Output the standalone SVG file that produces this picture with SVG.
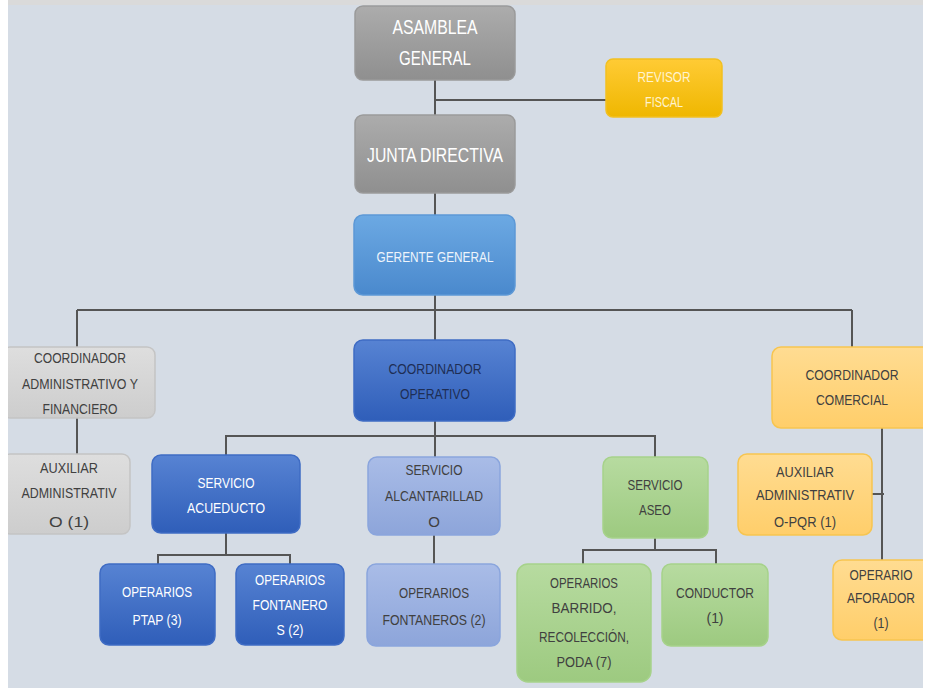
<svg xmlns="http://www.w3.org/2000/svg" width="925" height="688" viewBox="0 0 925 688">
<defs>
<linearGradient id="gGray" x1="0" y1="0" x2="0" y2="1"><stop offset="0" stop-color="#ACACAC"/><stop offset="1" stop-color="#8F8F8F"/></linearGradient>
<linearGradient id="gYellow" x1="0" y1="0" x2="0" y2="1"><stop offset="0" stop-color="#FFCB35"/><stop offset="1" stop-color="#EFB700"/></linearGradient>
<linearGradient id="gSky" x1="0" y1="0" x2="0" y2="1"><stop offset="0" stop-color="#6CA9E3"/><stop offset="1" stop-color="#4A89CD"/></linearGradient>
<linearGradient id="gBlue" x1="0" y1="0" x2="0" y2="1"><stop offset="0" stop-color="#5783D3"/><stop offset="1" stop-color="#2F5EB9"/></linearGradient>
<linearGradient id="gLBlue" x1="0" y1="0" x2="0" y2="1"><stop offset="0" stop-color="#A9BCE7"/><stop offset="1" stop-color="#8DA5DA"/></linearGradient>
<linearGradient id="gGreen" x1="0" y1="0" x2="0" y2="1"><stop offset="0" stop-color="#B7DBA0"/><stop offset="1" stop-color="#9DCA80"/></linearGradient>
<linearGradient id="gOrange" x1="0" y1="0" x2="0" y2="1"><stop offset="0" stop-color="#FFDC92"/><stop offset="1" stop-color="#FFCE6A"/></linearGradient>
<linearGradient id="gLGray" x1="0" y1="0" x2="0" y2="1"><stop offset="0" stop-color="#DEDEDE"/><stop offset="1" stop-color="#CDCDCD"/></linearGradient>
</defs>
<style>
text{font-family:"Liberation Sans",Arial,sans-serif;text-anchor:middle;}
.box{stroke-width:1.5;}
.gray{fill:url(#gGray);stroke:#9A9A9A;}
.yellow{fill:url(#gYellow);stroke:#F2C020;}
.sky{fill:url(#gSky);stroke:#5C98D6;}
.blue{fill:url(#gBlue);stroke:#3F6CC4;}
.lblue{fill:url(#gLBlue);stroke:#8AA5DD;}
.green{fill:url(#gGreen);stroke:#A6D28A;}
.orange{fill:url(#gOrange);stroke:#F7C550;}
.lgray{fill:url(#gLGray);stroke:#C4C4C4;}
.tw{fill:#FFFFFF;}
.ty{fill:#FFF3CF;}
.td{fill:#404040;}
.tdb{fill:#1E2E55;}
.big{font-size:20px;}
.md{font-size:15px;}
.sm{font-size:14px;}
.conn line,.conn polyline{stroke:#555555;stroke-width:2;fill:none;}
</style>
<rect x="0" y="0" width="925" height="688" fill="#D5DCE5"/>

<g class="conn">
<line x1="435" y1="80" x2="435" y2="215"/>
<line x1="435" y1="100" x2="606" y2="100"/>
<line x1="435" y1="295" x2="435" y2="340"/>
<line x1="77" y1="310" x2="852" y2="310"/>
<line x1="77" y1="310" x2="77" y2="347"/>
<line x1="852" y1="310" x2="852" y2="347"/>
<line x1="77" y1="418" x2="77" y2="454"/>
<line x1="435" y1="421" x2="435" y2="457"/>
<polyline points="226,455 226,436 655,436 655,457"/>
<polyline points="226,533 226,555"/>
<polyline points="158,564 158,555 290,555 290,564"/>
<line x1="434" y1="535" x2="434" y2="564"/>
<line x1="655" y1="538" x2="655" y2="550"/>
<polyline points="583,564 583,550 716,550 716,564"/>
<line x1="882" y1="428" x2="882" y2="560"/>
<line x1="872" y1="494" x2="884" y2="494"/>
</g>

<g id="asamblea"><rect class="box gray" x="355" y="6" width="160" height="74" rx="8"/>
<text class="big tw" x="435" y="34" textLength="85" lengthAdjust="spacingAndGlyphs">ASAMBLEA</text><text class="big tw" x="435" y="65" textLength="72" lengthAdjust="spacingAndGlyphs">GENERAL</text></g>

<g id="revisor"><rect class="box yellow" x="606" y="59" width="116" height="58" rx="7"/>
<text class="md ty" x="664" y="82" textLength="53" lengthAdjust="spacingAndGlyphs">REVISOR</text><text class="md ty" x="664" y="107" textLength="38" lengthAdjust="spacingAndGlyphs">FISCAL</text></g>

<g id="junta"><rect class="box gray" x="355" y="115" width="160" height="78" rx="8"/>
<text class="big tw" x="435" y="162" textLength="136" lengthAdjust="spacingAndGlyphs">JUNTA DIRECTIVA</text></g>

<g id="gerente"><rect class="box sky" x="354" y="215" width="161" height="80" rx="9"/>
<text class="md" fill="#EEF4FB" x="435" y="262" textLength="117" lengthAdjust="spacingAndGlyphs">GERENTE GENERAL</text></g>

<g id="coord-admin"><rect class="box lgray" x="2" y="347" width="153" height="71" rx="8"/>
<text class="sm td" x="80" y="363" textLength="92" lengthAdjust="spacingAndGlyphs">COORDINADOR</text><text class="sm td" x="80" y="389" textLength="116" lengthAdjust="spacingAndGlyphs">ADMINISTRATIVO Y</text><text class="sm td" x="80" y="414" textLength="75" lengthAdjust="spacingAndGlyphs">FINANCIERO</text></g>

<g id="aux-admin"><rect class="box lgray" x="2" y="454" width="128" height="80" rx="8"/>
<text class="sm td" x="69" y="473" textLength="58" lengthAdjust="spacingAndGlyphs">AUXILIAR</text><text class="sm td" x="69" y="498" textLength="95" lengthAdjust="spacingAndGlyphs">ADMINISTRATIV</text><text class="sm td" x="69" y="527" textLength="40" lengthAdjust="spacingAndGlyphs">O  (1)</text></g>

<g id="coord-operativo"><rect class="box blue" x="354" y="340" width="161" height="81" rx="9"/>
<text class="md tdb" x="435" y="374" textLength="93" lengthAdjust="spacingAndGlyphs">COORDINADOR</text><text class="md tdb" x="435" y="399" textLength="70" lengthAdjust="spacingAndGlyphs">OPERATIVO</text></g>

<g id="coord-comercial"><rect class="box orange" x="772" y="347" width="160" height="81" rx="9"/>
<text class="md td" x="852" y="380" textLength="93" lengthAdjust="spacingAndGlyphs">COORDINADOR</text><text class="md td" x="852" y="405" textLength="72" lengthAdjust="spacingAndGlyphs">COMERCIAL</text></g>

<g id="serv-acueducto"><rect class="box blue" x="152" y="455" width="148" height="78" rx="9"/>
<text class="md tw" x="226" y="488" textLength="57" lengthAdjust="spacingAndGlyphs">SERVICIO</text><text class="md tw" x="226" y="513" textLength="78" lengthAdjust="spacingAndGlyphs">ACUEDUCTO</text></g>

<g id="serv-alcantarillado"><rect class="box lblue" x="368" y="457" width="132" height="78" rx="9"/>
<text class="md td" x="434" y="475" textLength="57" lengthAdjust="spacingAndGlyphs">SERVICIO</text><text class="md td" x="434" y="501" textLength="98" lengthAdjust="spacingAndGlyphs">ALCANTARILLAD</text><text class="md td" x="434" y="527">O</text></g>

<g id="serv-aseo"><rect class="box green" x="603" y="457" width="105" height="81" rx="9"/>
<text class="md td" x="655" y="490" textLength="55" lengthAdjust="spacingAndGlyphs">SERVICIO</text><text class="md td" x="655" y="515" textLength="32" lengthAdjust="spacingAndGlyphs">ASEO</text></g>

<g id="aux-pqr"><rect class="box orange" x="738" y="454" width="134" height="81" rx="9"/>
<text class="sm td" x="805" y="477" textLength="58" lengthAdjust="spacingAndGlyphs">AUXILIAR</text><text class="sm td" x="805" y="500" textLength="98" lengthAdjust="spacingAndGlyphs">ADMINISTRATIV</text><text class="sm td" x="805" y="527" textLength="62" lengthAdjust="spacingAndGlyphs">O-PQR  (1)</text></g>

<g id="op-aforador"><rect class="box orange" x="833" y="560" width="100" height="80" rx="9"/>
<text class="sm td" x="881" y="580" textLength="63" lengthAdjust="spacingAndGlyphs">OPERARIO</text><text class="sm td" x="881" y="603" textLength="68" lengthAdjust="spacingAndGlyphs">AFORADOR</text><text class="sm td" x="881" y="628" textLength="15" lengthAdjust="spacingAndGlyphs">(1)</text></g>

<g id="op-ptap"><rect class="box blue" x="100" y="564" width="115" height="81" rx="9"/>
<text class="sm tw" x="157" y="597" textLength="70" lengthAdjust="spacingAndGlyphs">OPERARIOS</text><text class="sm tw" x="157" y="625" textLength="49" lengthAdjust="spacingAndGlyphs">PTAP (3)</text></g>

<g id="op-fontaneros-acu"><rect class="box blue" x="236" y="564" width="108" height="81" rx="9"/>
<text class="sm tw" x="290" y="585" textLength="70" lengthAdjust="spacingAndGlyphs">OPERARIOS</text><text class="sm tw" x="290" y="610" textLength="75" lengthAdjust="spacingAndGlyphs">FONTANERO</text><text class="sm tw" x="290" y="635" textLength="27" lengthAdjust="spacingAndGlyphs">S (2)</text></g>

<g id="op-fontaneros-alc"><rect class="box lblue" x="367" y="564" width="133" height="82" rx="9"/>
<text class="sm td" x="434" y="598" textLength="70" lengthAdjust="spacingAndGlyphs">OPERARIOS</text><text class="sm td" x="434" y="625" textLength="103" lengthAdjust="spacingAndGlyphs">FONTANEROS (2)</text></g>

<g id="op-barrido"><rect class="box green" x="517" y="564" width="134" height="118" rx="11"/>
<text class="sm td" x="584" y="588" textLength="68" lengthAdjust="spacingAndGlyphs">OPERARIOS</text><text class="sm td" x="584" y="613" textLength="65" lengthAdjust="spacingAndGlyphs">BARRIDO,</text><text class="sm td" x="584" y="642" textLength="90" lengthAdjust="spacingAndGlyphs">RECOLECCIÓN,</text><text class="sm td" x="584" y="667" textLength="55" lengthAdjust="spacingAndGlyphs">PODA (7)</text></g>

<g id="conductor"><rect class="box green" x="662" y="564" width="106" height="82" rx="9"/>
<text class="sm td" x="715" y="598" textLength="78" lengthAdjust="spacingAndGlyphs">CONDUCTOR</text><text class="sm td" x="715" y="623" textLength="17" lengthAdjust="spacingAndGlyphs">(1)</text></g>

<rect x="0" y="0" width="925" height="5" fill="#DADADA"/>
<rect x="0" y="0" width="8" height="688" fill="#FFFFFF"/>
<rect x="923" y="0" width="2" height="688" fill="#FFFFFF"/>
</svg>
